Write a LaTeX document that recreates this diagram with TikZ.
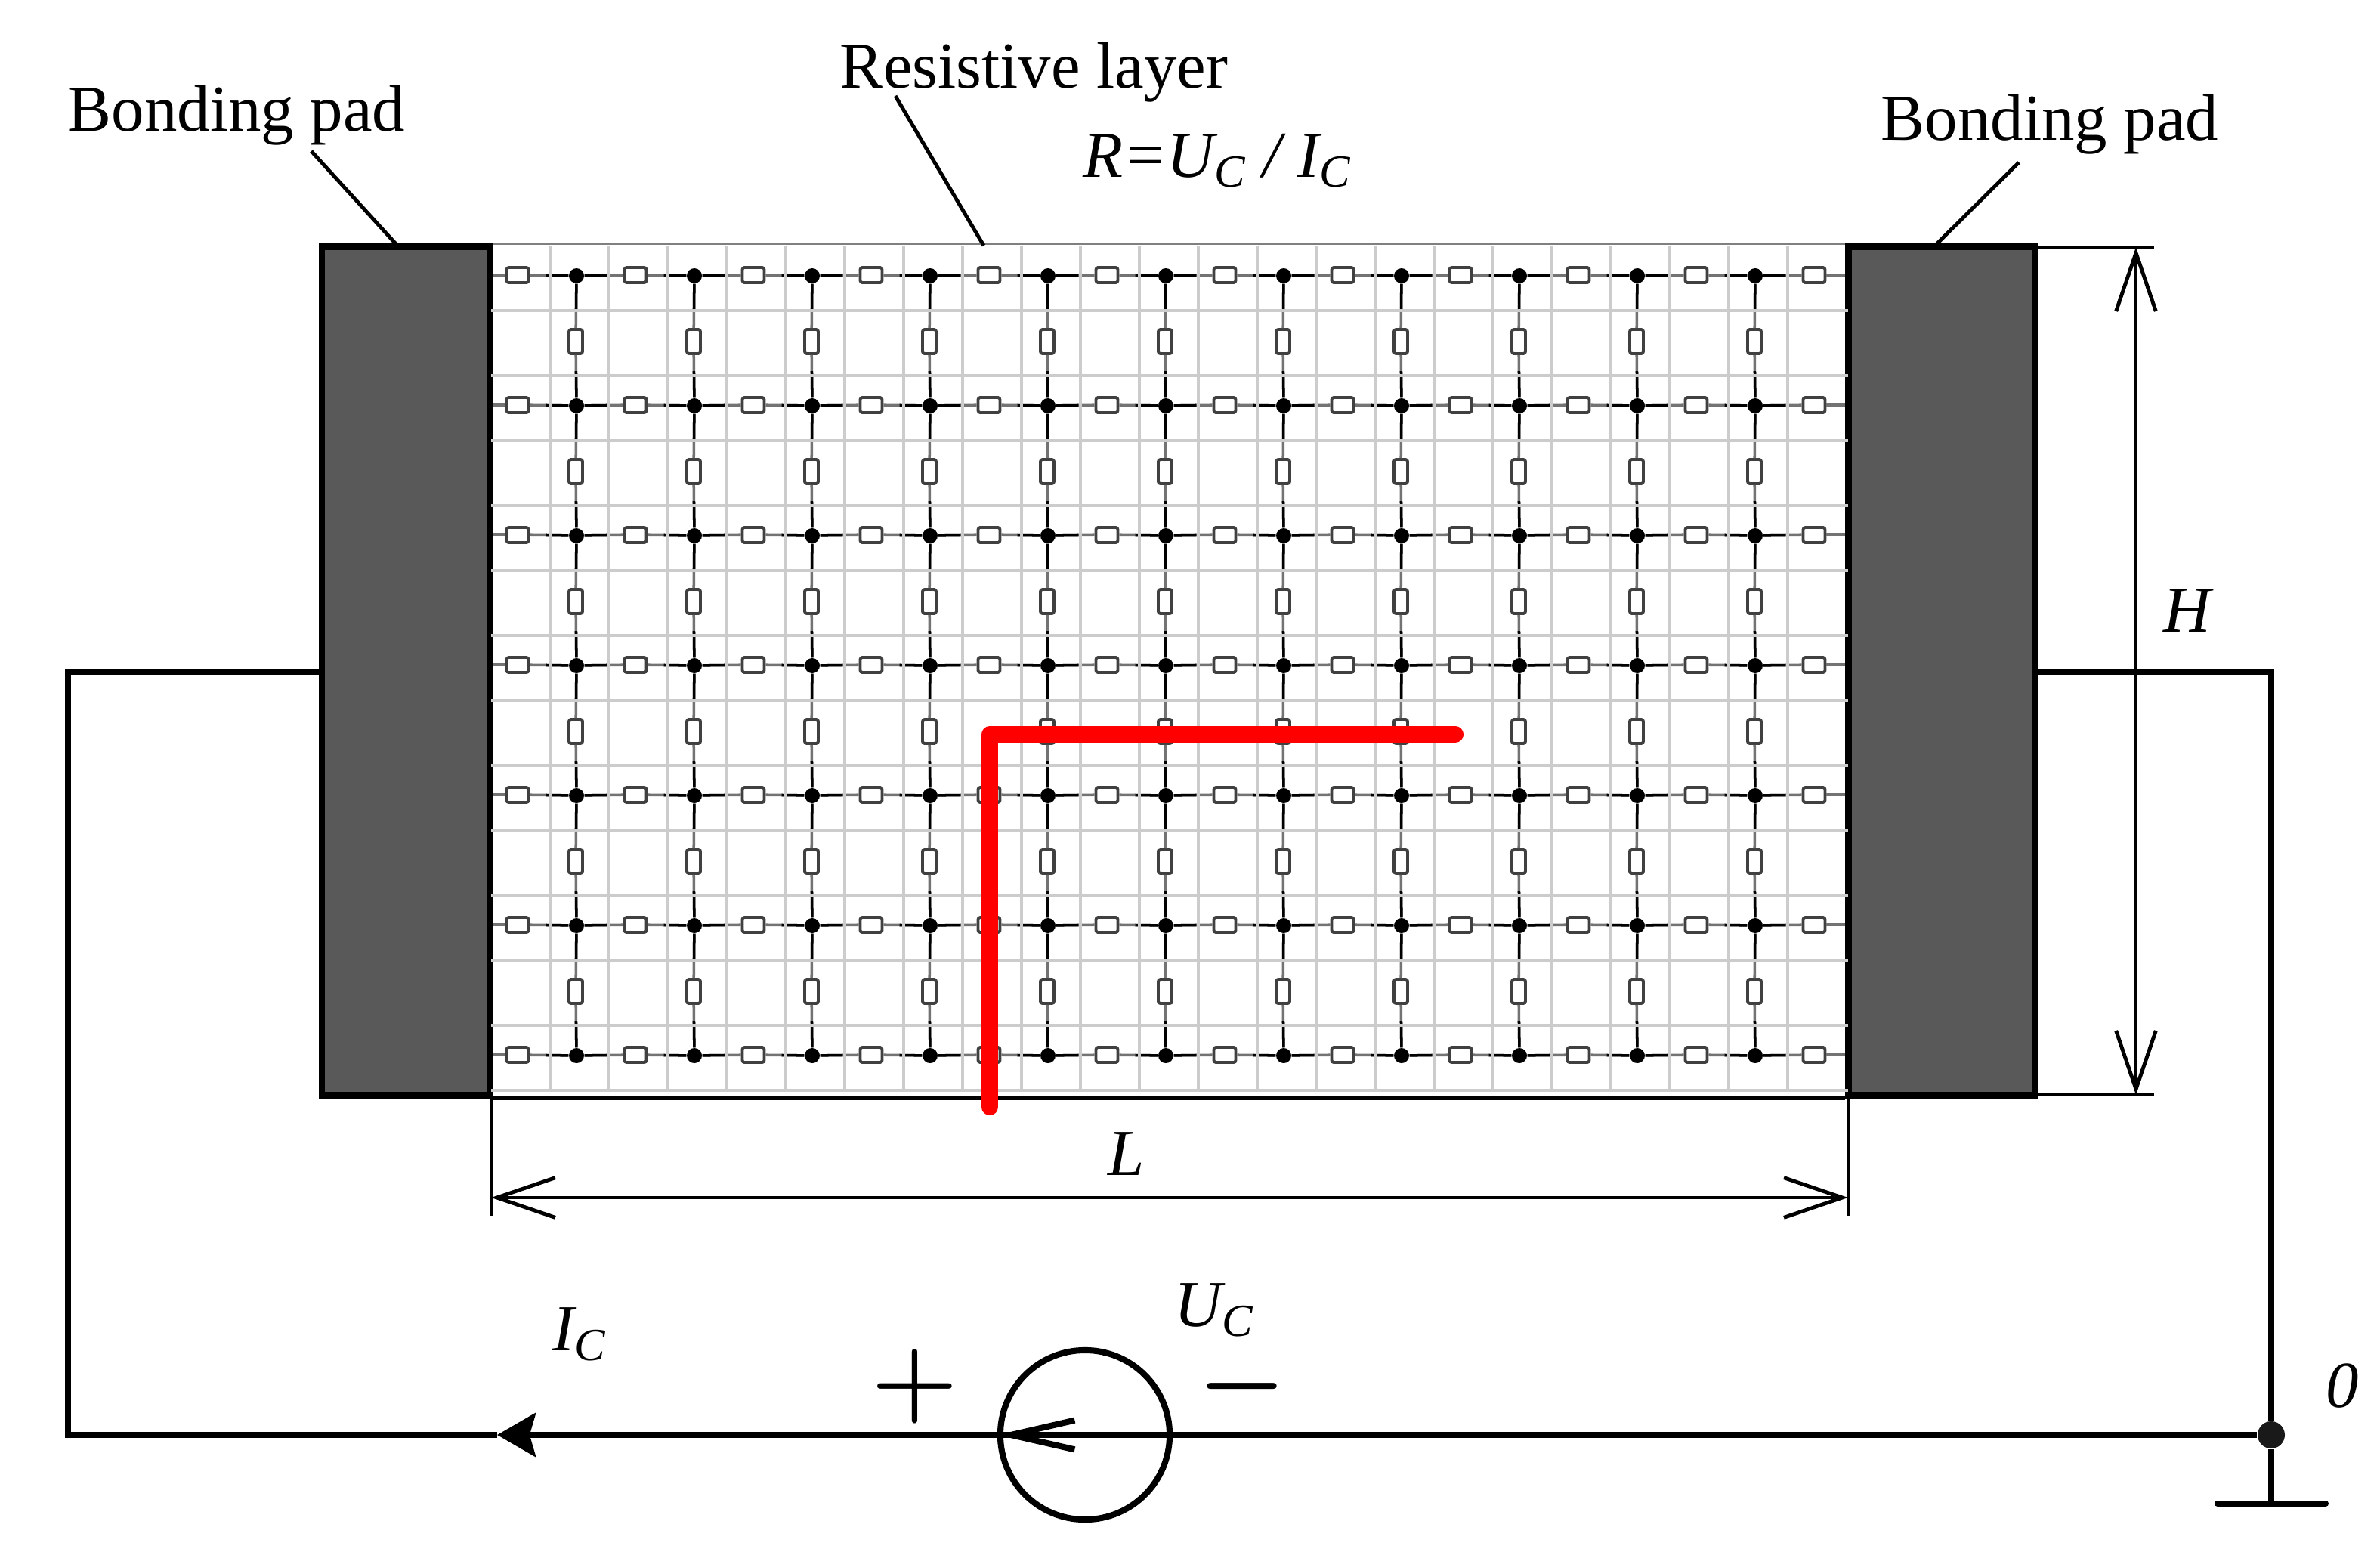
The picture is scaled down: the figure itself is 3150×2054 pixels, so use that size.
\documentclass[tikz,border=0pt]{standalone}
\usepackage{fontspec}
\setmainfont{Liberation Serif}
\usetikzlibrary{arrows.meta, positioning}

\tikzset{
	lbl/.style={font=\fontsize{24.7}{28}\selectfont, inner sep=0pt},
	ital/.style={lbl, font=\fontsize{24.7}{28}\selectfont\itshape},
	signs/.style={inner sep=0pt, scale=1.5, font=\Huge\boldmath},
	pad/.style={draw=black, fill=black!65, line width=2.4pt, inner sep=0pt},
	junc/.style={circle, fill=black, inner sep=0pt, minimum size=0.2cm},
	resh/.style={draw=black!75, fill=white, line width=1.1pt, rounded corners=0.8pt, inner sep=0pt, minimum width=0.29cm, minimum height=0.2cm},
	resv/.style={resh, minimum width=0.18cm, minimum height=0.32cm},
	wirelo/.style={black!55, line width=1pt},
	wirehi/.style={black, line width=1pt, shorten >=6pt},
	cell/.style={black!20, line width=1.2pt},
	wire/.style={black, line width=2.3pt},
	leader/.style={black, line width=1.4pt},
	dim/.style={black, line width=1.4pt},
	dimarrow/.style={dim, {Straight Barb[length=22pt, width=15pt]}-{Straight Barb[length=22pt, width=15pt]}},
}

\begin{document}
\begin{tikzpicture}[x=0.01cm, y=-0.01cm]
	\useasboundingbox (0,0) rectangle (3150,2054);

	\node[pad, minimum width=2.22cm, minimum height=11.22cm] (padL) at (537,888) {};
	\node[pad, minimum width=2.47cm, minimum height=11.22cm] (padR) at (2570,888) {};

	\foreach \c in {0,...,10} \foreach \r in {0,...,6}
		\node[junc] (d-\c-\r) at ({763+156*\c},{365+172*\r}) {};
	\foreach \c in {0,...,11} \foreach \r in {0,...,6}
		\node[resh] (h-\c-\r) at ({685+156*\c},{364+172*\r}) {};
	\foreach \c in {0,...,10} \foreach \r in {0,...,5}
		\node[resv] (v-\c-\r) at ({762+156*\c},{452+172*\r}) {};

	\foreach \r in {0,...,6} {
		\draw[wirelo] (padL.east |- h-0-\r) -- (h-0-\r);
		\draw[wirelo] (h-11-\r) -- (padR.west |- h-11-\r);
		\foreach \c [evaluate=\c as \n using int(\c+1)] in {0,...,10} {
			\draw[wirelo] (h-\c-\r) -- (d-\c-\r) -- (h-\n-\r);
			\draw[wirehi] (d-\c-\r) -- (h-\c-\r);
			\draw[wirehi] (d-\c-\r) -- (h-\n-\r);
		}
	}
	\foreach \c in {0,...,10} {
		\foreach \r [evaluate=\r as \s using int(\r+1)] in {0,...,5} {
			\draw[wirelo] (d-\c-\r) -- (v-\c-\r) -- (d-\c-\s);
			\draw[wirehi] (d-\c-\r) -- (v-\c-\r);
			\draw[wirehi] (d-\c-\s) -- (v-\c-\r);
		}
	}

	\foreach \k in {1,...,22}
		\draw[cell] ({650+78*\k},325) -- ({650+78*\k},1445);
	\foreach \k in {1,...,13}
		\draw[cell] (650,{325+86*\k}) -- (2446,{325+86*\k});

	\draw[black!50, line width=0.8pt] (padL.north east) -- (padR.north west);
	\draw[black, line width=1.6pt] (padL.south east) -- (padR.south west);

	\node[lbl] (bondL) at (313,153) {Bonding pad};
	\node[lbl] (bondR) at (2713,165) {Bonding pad};
	\node[lbl] (layer) at (1368,96) {Resistive layer};
	\node[ital] (formula) at (1611,213) {R=U\textsubscript{C} / I\textsubscript{C}};
	\node[ital] (lenH) at (2895,808) {H};
	\node[ital] (lenL) at (1491,1527) {L};
	\node[ital] (volt) at (1607,1734) {U\textsubscript{C}};
	\node[ital] (curr) at (767,1766) {I\textsubscript{C}};
	\node[ital] (zero) at (3100,1834) {0};
	\node[signs] (plus) at (1211,1867) {\smash{$+$}};
	\node[signs] (minus) at (1644,1867) {\smash{$-$}};

	\coordinate (leadBL) at (412,200);
	\coordinate (tipBL) at (526,325);
	\coordinate (leadLR) at (1185,127);
	\coordinate (tipLR) at (1302,325);
	\coordinate (leadBR) at (2672,215);
	\coordinate (tipBR) at (2561,325);
	\draw[leader] (leadBL) -- (tipBL);
	\draw[leader] (leadLR) -- (tipLR);
	\draw[leader] (leadBR) -- (tipBR);

	\coordinate (tickL) at (650,1609);
	\coordinate (tickR) at (2446,1609);
	\coordinate (tickT) at (2851,327);
	\coordinate (tickB) at (2851,1449);
	\coordinate (endL) at (650,1585);
	\coordinate (endR) at (2446,1585);
	\coordinate (endT) at (2827,327);
	\coordinate (endB) at (2827,1449);
	\draw[dim] (tickL |- padL.south) -- (tickL);
	\draw[dim] (tickR |- padR.south) -- (tickR);
	\draw[dim] (padR.east |- tickT) -- (tickT);
	\draw[dim] (padR.east |- tickB) -- (tickB);
	\draw[dimarrow] (endL) -- (endR);
	\draw[dimarrow] (endT) -- (endB);

	\node[circle, draw=black, line width=2.3pt, inner sep=0pt, minimum size=2.24cm] (source) at (1436,1899) {};
	\node[circle, fill=black!90, inner sep=0pt, minimum size=0.36cm] (gnd) at (3006,1899) {};
	\coordinate (cornerBL) at (90,1899);
	\coordinate (cornerTL) at (90,889);
	\coordinate (cornerTR) at (3006,889);
	\coordinate (earth) at (3006,1990);
	\coordinate (tipIC) at (658,1899);

	\draw[wire] (gnd) -- (source.east) -- (source.west);
	\draw[wire, -{Straight Barb[length=24pt, width=11pt]}] (source.center) -- (source.west);
	\draw[wire, -{Stealth[length=14.5pt, width=16.5pt, inset=2.3pt]}] (source.west) -- (tipIC);
	\draw[wire] (tipIC) -- (cornerBL) -- (cornerTL) -- (padL.west |- cornerTL);
	\draw[wire] (gnd) -- (cornerTR) -- (padR.east |- cornerTR);
	\draw[wire] (gnd) -- (earth);
	\draw[wire, line cap=round] (2935,1990) -- (3078,1990);

	\draw[red, line width=6.3pt, line cap=round, line join=round] (1310,1465) -- (1310,972) -- (1926,972);
\end{tikzpicture}
\end{document}
